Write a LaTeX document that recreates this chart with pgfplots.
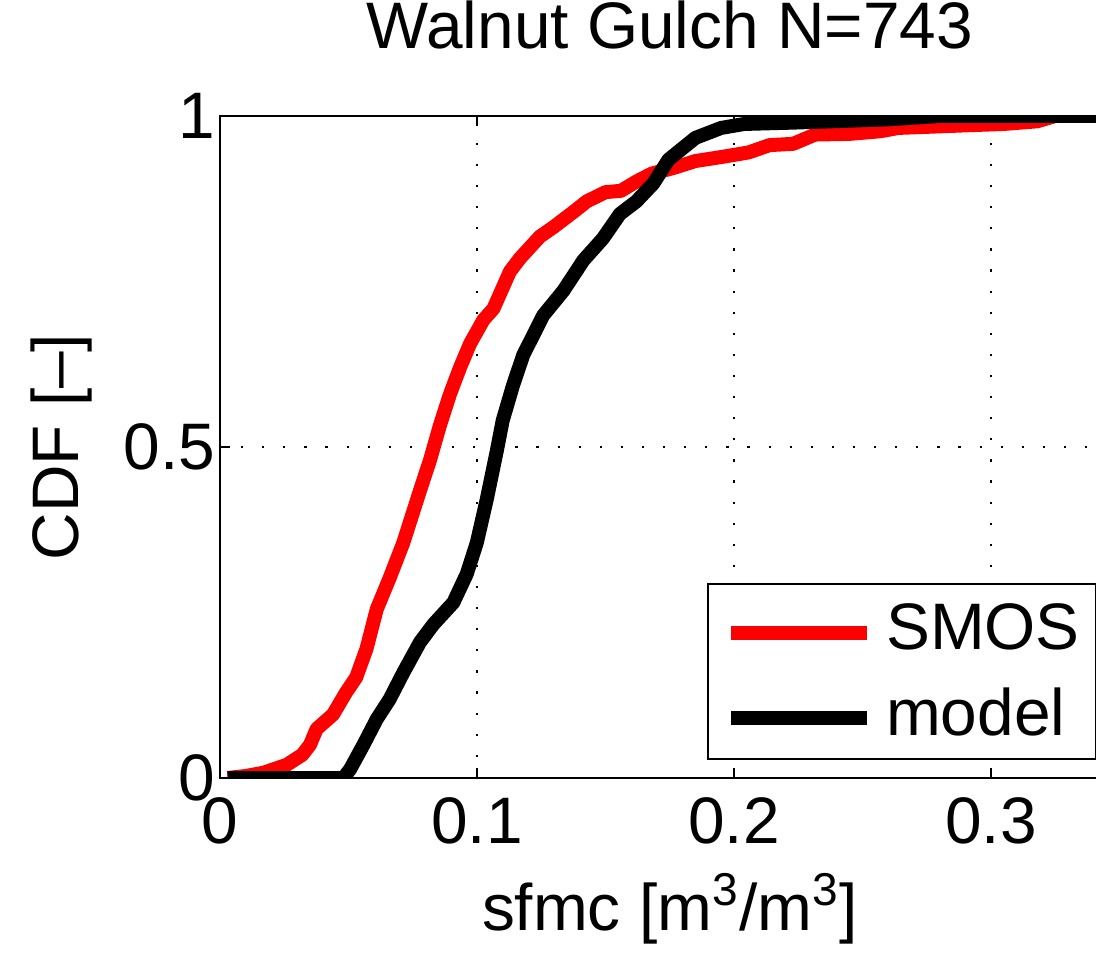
\documentclass[border=0pt]{standalone}
\usepackage{fontspec}
\setmainfont{Liberation Sans}
\usepackage{pgfplots}
\usepackage{pgfplotstable}
\pgfplotsset{compat=1.18}

\newcommand{\fs}{\fontsize{24}{28.8}\selectfont}

\pgfplotstableread{
x y
0.003 0
0.010 0.003
0.017 0.008
0.026 0.020
0.032 0.035
0.035 0.050
0.0376 0.074
0.044 0.096
0.049 0.129
0.053 0.152
0.057 0.195
0.061 0.255
0.066 0.302
0.0713 0.355
0.0778 0.434
0.0817 0.480
0.0856 0.533
0.0895 0.580
0.0934 0.620
0.0973 0.656
0.1025 0.692
0.1064 0.709
0.1128 0.765
0.1167 0.785
0.1245 0.818
0.1297 0.832
0.1375 0.855
0.1427 0.871
0.150 0.885
0.156 0.887
0.162 0.901
0.168 0.913
0.176 0.921
0.185 0.932
0.195 0.938
0.2057 0.945
0.2138 0.956
0.223 0.958
0.2316 0.972
0.245 0.973
0.257 0.977
0.264 0.982
0.291 0.986
0.305 0.988
0.318 0.992
0.325 1.0
0.35 1.0
}\smos

\pgfplotstableread{
x y
0.003 0
0.048 0
0.0506 0.013
0.0558 0.050
0.061 0.089
0.066 0.119
0.0713 0.159
0.0778 0.205
0.083 0.232
0.0908 0.265
0.096 0.308
0.0999 0.355
0.1038 0.421
0.1077 0.494
0.110 0.540
0.114 0.593
0.118 0.639
0.1258 0.699
0.1336 0.736
0.1414 0.782
0.149 0.815
0.1556 0.852
0.162 0.871
0.1686 0.898
0.1745 0.934
0.185 0.967
0.195 0.982
0.204 0.988
0.223 0.990
0.260 0.995
0.280 1.0
0.35 1.0
}\model

\begin{document}
\begin{tikzpicture}
\useasboundingbox (-80.29pt,-64.96pt) rectangle (319.71pt,283.94pt);
\clip (-80.29pt,-64.96pt) rectangle (319.71pt,283.94pt);
\begin{axis}[
  at={(0,0)}, anchor=south west,
  scale only axis, width=328.3pt, height=241.6pt,
  xmin=0, xmax=0.35, ymin=0, ymax=1,
  xtick={0,0.1,0.2,0.3}, ytick={0,0.5,1},
  scaled ticks=false,
  /pgf/number format/fixed,
  /pgf/number format/assume math mode=true,
  tick label style={font=\fs},
  xticklabel style={yshift=-3.7pt},
  yticklabel style={xshift=1.8pt},
  tick align=inside,
  major tick length=3.5pt,
  tick style={black, line width=0.8pt},
  axis line style={line width=0.9pt},
  xmajorgrids, ymajorgrids,
  major grid style={black, line width=0.8pt, dash pattern=on 0.8pt off 6.9pt},
  title={Walnut Gulch N=743},
  title style={font=\fs, at={(axis description cs:0.5,1)}, anchor=base, yshift=18.6pt},
  xlabel={sfmc [m\textsuperscript{3}/m\textsuperscript{3}]},
  xlabel style={font=\fs, at={(axis description cs:0.5,0)}, anchor=base, yshift=-55.5pt},
  ylabel={CDF [--]},
  ylabel style={font=\fs, at={(axis description cs:-0.1758,0.5)}, anchor=center},
  legend cell align=left,
  legend image code/.code={\draw[#1] (0pt,-1.5pt) -- (49.6pt,-1.5pt);},
  legend style={font=\fs, draw=black, line width=0.9pt, fill=white,
    at={(rel axis cs:0.5414,0.0272)}, anchor=south west,
    inner xsep=5.85pt, inner ysep=7.1pt, row sep=12.4pt, column sep=4.4pt,
    nodes={inner sep=0pt}},
]
\addplot[red, line width=5.1pt, line join=round] table {\smos};
\addlegendentry{SMOS}
\addplot[black, line width=5.1pt, line join=round] table {\model};
\addlegendentry{model}
\end{axis}
\end{tikzpicture}
\end{document}
